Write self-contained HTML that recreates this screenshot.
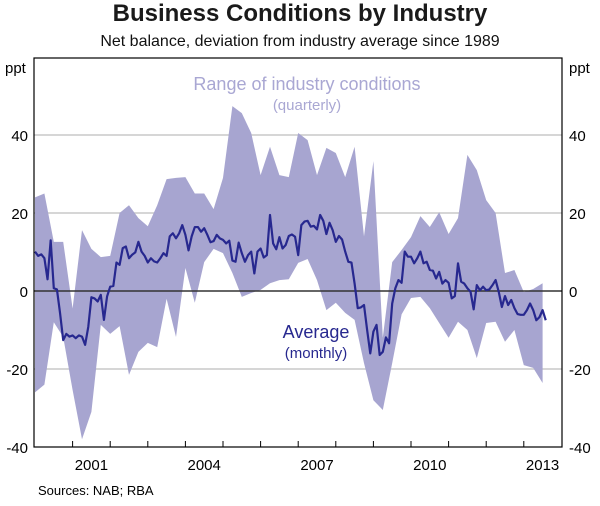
<!DOCTYPE html>
<html><head><meta charset="utf-8"><style>
body{margin:0;background:#fff;font-family:"Liberation Sans",Arial,sans-serif}
svg text{font-family:"Liberation Sans",Arial,sans-serif}
</style></head><body>
<svg id="c" width="600" height="501">
<text x="300" y="21" text-anchor="middle" font-size="24" font-weight="bold" fill="#1a1a1a">Business Conditions by Industry</text>
<text x="300" y="46" text-anchor="middle" font-size="16" fill="#111">Net balance, deviation from industry average since 1989</text>
<text x="5" y="73" font-size="15">ppt</text>
<text x="569" y="73" font-size="15">ppt</text>
<text x="38" y="495" font-size="13">Sources: NAB; RBA</text>
<g id="grid"></g><g id="band"></g><g id="line"></g><g id="axes"></g>
<text x="307" y="90" text-anchor="middle" font-size="18" fill="#a9a7d3">Range of industry conditions</text>
<text x="307" y="110" text-anchor="middle" font-size="15" fill="#a9a7d3">(quarterly)</text>
<text x="316" y="338" text-anchor="middle" font-size="18" fill="#27288f">Average</text>
<text x="316" y="358" text-anchor="middle" font-size="15" fill="#27288f">(monthly)</text>
</svg>
<script>
const yTicks=[40,20,0,-20,-40];
const yearLabels=[2001,2004,2007,2010,2013];
const upper=[24,25,12.6,12.6,-4.5,15.6,10.8,8.7,9,20,22,18.7,16.6,22,28.7,29,29.2,25,25,21,29,47.4,45.6,40.5,29.7,37,29.7,29.2,40.5,38.7,29.7,36.7,35.4,29.2,37,14,33.3,-12,7.4,10.5,13.8,19.2,16.4,20.2,14.6,18.7,34.9,31,23.3,20,4.6,5.4,-0.3,0.5,2];
const lower=[-26,-24,-8,-11.8,-25.4,-38,-31,-8.7,-11,-9,-21.5,-15.6,-13.3,-14.4,-2,-11.8,5.9,-3,7.4,10.8,9.7,4.6,-1.5,-0.5,0.3,2,2.8,3,7.2,8.2,2.8,-4.9,-3,-5.6,-7.4,-18.5,-28,-30.5,-18.5,-6,-1.8,-1.5,-4.4,-8.2,-12,-7.9,-10,-17.2,-8.2,-7.9,-13,-10,-19,-19.7,-23.6];
const avg=[10.1,9,9.4,8.4,3,13,0.7,0.4,-5.7,-12.6,-11,-11.7,-11.4,-12.1,-11.4,-11.7,-13.8,-9.2,-1.6,-1.9,-2.7,-1,-7.4,-1.4,1.1,1.3,7.3,6.7,11,11.4,8.4,9.3,9.9,12.6,10.1,9,7.3,8.4,7.6,7.3,8.4,9.7,9,14,14.8,13.5,14.8,16.9,14.4,10.4,14,16.4,16.4,15.2,16.1,14.4,12.5,12.8,14.4,13.5,13.1,12.2,12.9,7.8,7.5,12.4,9.7,7.5,9.2,10.1,4.5,10.1,10.9,8.6,9.2,19.5,12.2,10.7,13.8,10.9,11.8,14.1,14.5,13.9,9.2,16.9,17.8,18,16.5,16.7,15.8,19.5,18,14.6,17.5,15.6,12.6,14.1,13.2,10.1,7.5,7.3,1.9,-4.4,-4.2,-3.6,-10,-16,-10.4,-8.7,-16.4,-15.6,-11.9,-13.4,-3.2,0.7,2.8,2.1,10.1,8.8,8.8,7.1,8.4,10.1,7.1,7.5,5.4,5.2,3.2,4.9,1.9,2.8,2.1,-1.9,-1.3,7.1,2.4,1.9,0.7,-0.2,-4.7,1.5,0.2,1.1,0.2,0.4,1.5,2.8,-0.2,-4.1,-1.3,-3.6,-2.3,-4.4,-5.9,-6.1,-6.1,-4.9,-3.2,-4.9,-7.5,-6.7,-4.9,-7.5];
const NS="http://www.w3.org/2000/svg";
const L=34,R=562,T=58,B=447;
function xs(t){return 35+(t-2000)*37.6;}
function ys(v){return 291-v*3.9;}
function mk(tag,attrs,parent){const e=document.createElementNS(NS,tag);for(const k in attrs)e.setAttribute(k,attrs[k]);document.getElementById(parent).appendChild(e);return e;}
yTicks.forEach(v=>{
  if(v!==0&&v!==-40){const g=mk('line',{x1:L,x2:R,y1:ys(v),y2:ys(v),stroke:'#c8c8c8','stroke-width':1.5},'grid');
  
  }
  const a=mk('text',{x:28,y:ys(v)+6,'text-anchor':'end','font-size':15},'axes');a.textContent=v;
  
  
  const b=mk('text',{x:569,y:ys(v)+6,'font-size':15},'axes');b.textContent=v;
  
  
});
let pts=upper.map((v,i)=>xs(2000+i/4)+','+ys(v));
for(let i=lower.length-1;i>=0;i--)pts.push(xs(2000+i/4)+','+ys(lower[i]));
const band=mk('polygon',{points:pts.join(' '),fill:'#a7a5d0'},'band');


const zl=mk('line',{x1:L,x2:R,y1:ys(0),y2:ys(0),stroke:'#333','stroke-width':1.5},'band');


const ln=mk('polyline',{points:avg.map((v,i)=>xs(2000+i/12)+','+ys(v)).join(' '),fill:'none',stroke:'#27288f','stroke-width':2.2,'stroke-linejoin':'round'},'line');


const fr=mk('rect',{x:L,y:T,width:R-L,height:B-T,fill:'none',stroke:'#000','stroke-width':1.2},'axes');


for(let yr=2001;yr<=2013;yr++){const t=mk('line',{x1:xs(yr),x2:xs(yr),y1:B,y2:B-6,stroke:'#000','stroke-width':1},'axes');

}
yearLabels.forEach(yr=>{const t=mk('text',{x:xs(yr+0.5),y:470,'text-anchor':'middle','font-size':15},'axes');t.textContent=yr;

});
</script>
</body></html>
